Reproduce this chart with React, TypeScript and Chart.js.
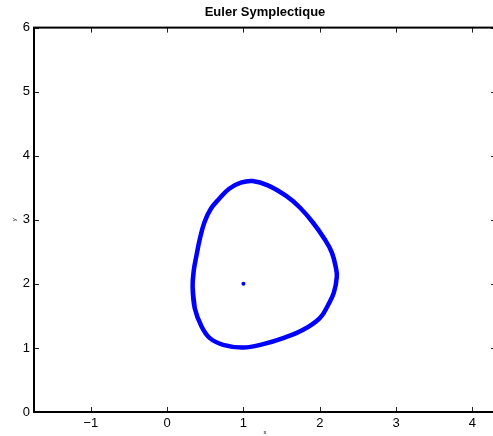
import React, { useEffect, useRef } from "react";
import { Chart, registerables } from "chart.js";

Chart.register(...registerables);

// Closed orbit (x, y); first and last points coincide
const orbitX = [0.334, 0.348, 0.384, 0.429, 0.489, 0.573, 0.682, 0.813, 0.966, 1.119, 1.320, 1.569, 1.739, 1.910, 2.067, 2.159, 2.211, 2.224, 2.185, 2.111, 2.001, 1.782, 1.520, 1.258, 0.996, 0.734, 0.560, 0.451, 0.362, 0.334];
const orbitY = [1.956, 2.200, 2.441, 2.703, 2.963, 3.172, 3.329, 3.485, 3.579, 3.604, 3.537, 3.365, 3.192, 2.958, 2.692, 2.488, 2.254, 2.113, 1.862, 1.674, 1.466, 1.283, 1.153, 1.059, 1.006, 1.049, 1.153, 1.335, 1.620, 1.956];

// Equilibrium point
const equilibriumX = [1];
const equilibriumY = [2];

const xTickValues = [-1, 0, 1, 2, 3, 4];
const yTickValues = [0, 1, 2, 3, 4, 5, 6];
const xLimits = [-1.745, 4.31];
const yLimits = [0, 6];

const titleText = "Euler Symplectique";
const xLabel = "x";
const yLabel = "y";

const FONT = "'Liberation Sans', Arial, Helvetica, sans-serif";

const fmt = (v: number) => (v < 0 ? "\u2212" + Math.abs(v) : String(v));

const framePlugin = {
  id: "matlabFrame",
  afterDatasetsDraw(chart: any) {
    const { ctx, chartArea, scales } = chart;
    const { left, right, top, bottom } = chartArea;
    const xs = scales.x;
    const ys = scales.y;
    ctx.save();
    ctx.strokeStyle = "#222";
    ctx.lineWidth = 1;
    ctx.beginPath();
    for (const t of xs.ticks) {
      const px = Math.round(xs.getPixelForValue(t.value)) + 0.5;
      ctx.moveTo(px, bottom);
      ctx.lineTo(px, bottom - 5);
      ctx.moveTo(px, top);
      ctx.lineTo(px, top + 5);
    }
    for (const t of ys.ticks) {
      const py = Math.round(ys.getPixelForValue(t.value)) + 0.5;
      ctx.moveTo(left, py);
      ctx.lineTo(left + 5, py);
      ctx.moveTo(right, py);
      ctx.lineTo(right - 5, py);
    }
    ctx.stroke();
    ctx.lineWidth = 2;
    ctx.strokeStyle = "#000";
    ctx.strokeRect(left, top, right - left, bottom - top);
    ctx.restore();
  },
};

export default function App() {
  const ref = useRef<HTMLCanvasElement | null>(null);

  useEffect(() => {
    if (!ref.current) return;
    const n = orbitX.length;
    const orbit = orbitX.map((x, i) => ({ x, y: orbitY[i] }));
    // wrap around so the spline is smooth where the loop closes
    const looped = [orbit[n - 2], ...orbit, orbit[1]];
    const eq = equilibriumX.map((x, i) => ({ x, y: equilibriumY[i] }));
    const tickFont = { family: FONT, size: 13 };
    const chart = new Chart(ref.current, {
      type: "scatter",
      data: {
        datasets: [
          {
            data: looped,
            showLine: true,
            borderColor: "#0000ff",
            borderWidth: 4.5,
            pointRadius: 0,
            tension: 0.4,
            fill: false,
          } as any,
          {
            data: eq,
            showLine: false,
            pointRadius: 2,
            pointBackgroundColor: "#0000ff",
            pointBorderColor: "#0000ff",
            pointBorderWidth: 0,
          } as any,
        ],
      },
      options: {
        animation: false,
        responsive: false,
        maintainAspectRatio: false,
        layout: { padding: { left: 0, right: 14, top: 0, bottom: 0 } },
        plugins: {
          legend: { display: false },
          tooltip: { enabled: false },
          title: {
            display: true,
            text: titleText,
            fullSize: false,
            color: "#000",
            font: { family: FONT, size: 13, weight: "bold" },
            padding: { top: 5, bottom: 7 },
          },
        },
        scales: {
          x: {
            type: "linear",
            min: xLimits[0],
            max: xLimits[1],
            afterBuildTicks: (s: any) => {
              s.ticks = xTickValues.map((v) => ({ value: v }));
            },
            afterFit: (s: any) => {
              s.height = 24;
            },
            grid: { display: false, drawTicks: false },
            border: { display: false },
            ticks: {
              color: "#000",
              font: tickFont,
              padding: 4,
              maxRotation: 0,
              autoSkip: false,
              callback: (v: any) => fmt(Number(v)),
            },
            title: {
              display: true,
              text: xLabel,
              color: "#000",
              font: { family: FONT, size: 6 },
              padding: 0,
            },
          },
          y: {
            type: "linear",
            min: yLimits[0],
            max: yLimits[1],
            afterBuildTicks: (s: any) => {
              s.ticks = yTickValues.map((v) => ({ value: v }));
            },
            afterFit: (s: any) => {
              s.width = 34;
            },
            grid: { display: false, drawTicks: false },
            border: { display: false },
            ticks: {
              color: "#000",
              font: tickFont,
              padding: 4,
              autoSkip: false,
              callback: (v: any) => fmt(Number(v)),
            },
            title: {
              display: true,
              text: yLabel,
              color: "#000",
              font: { family: FONT, size: 6 },
              padding: { top: 11, bottom: 0 },
            },
          },
        },
      } as any,
      plugins: [framePlugin],
    });
    return () => chart.destroy();
  }, []);

  return (
    <div
      style={{
        position: "fixed",
        left: 0,
        top: 0,
        width: 493,
        height: 436,
        overflow: "hidden",
        background: "#fff",
      }}
    >
      <canvas ref={ref} width={510} height={436} style={{ display: "block", width: 510, height: 436 }} />
    </div>
  );
}
